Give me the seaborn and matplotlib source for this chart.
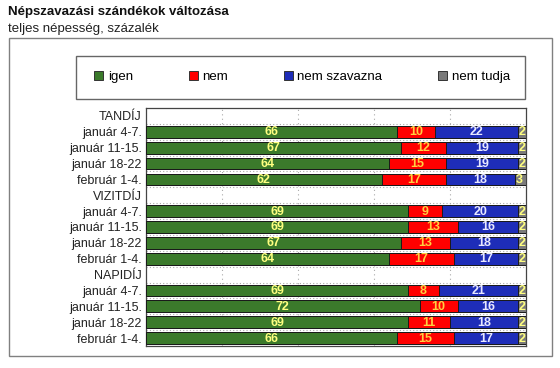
import matplotlib
matplotlib.use("Agg")
import matplotlib.pyplot as plt
from matplotlib.patches import Rectangle, Patch
import seaborn as sns
import pandas as pd
import numpy as np

# ---- data ----
groups = ["TANDÍJ", "VIZITDÍJ", "NAPIDÍJ"]
periods = ["január 4-7.", "január 11-15.", "január 18-22", "február 1-4."]
series = ["igen", "nem", "nem szavazna", "nem tudja"]
igen = [66, 67, 64, 62, 69, 69, 67, 64, 69, 72, 69, 66]
nem = [10, 12, 15, 17, 9, 13, 13, 17, 8, 10, 11, 15]
nem_szavazna = [22, 19, 19, 18, 20, 16, 18, 17, 21, 16, 18, 17]
nem_tudja = [2, 2, 2, 3, 2, 2, 2, 2, 2, 2, 2, 2]

colors = ["#3B7A2B", "#FF0000", "#1E2DB8", "#7A7A7A"]
label_colors = ["#FFFF80", "#FFD040", "#E8E8FF", "#FFFF80"]

# ---- build table ----
keys, order, ticklabels = [], [], []
for gi, g in enumerate(groups):
    order.append(g)
    ticklabels.append(g)
    for p in periods:
        k = f"{g}|{p}"
        keys.append(k)
        order.append(k)
        ticklabels.append(p)

vals = np.array([igen, nem, nem_szavazna, nem_tudja], dtype=float)
cum = np.cumsum(vals, axis=0)
df = pd.DataFrame({"key": keys})
for i, s in enumerate(series):
    df[s] = vals[i]
    df["cum_" + s] = cum[i]

plt.rcParams["font.family"] = ["Liberation Sans", "DejaVu Sans"]
fig = plt.figure(figsize=(5.6, 3.68), dpi=100)
ax = fig.add_axes([146 / 560, 1 - 346 / 368, 380 / 560, 238 / 368])

# draw stacked bars from the largest cumulative to smallest
for i in range(len(series) - 1, -1, -1):
    sns.barplot(data=df, x="cum_" + series[i], y="key", order=order,
                color=colors[i], saturation=1, width=0.74, errorbar=None,
                edgecolor="#1a1a1a", linewidth=0.7, ax=ax, zorder=3)

# labels
ypos = {k: order.index(k) for k in keys}
for r, k in enumerate(keys):
    for i in range(len(series)):
        left = cum[i, r] - vals[i, r]
        cx = left + vals[i, r] / 2
        if i == 3:
            cx = left + vals[i, r] * 0.45
        ax.text(cx, ypos[k] + 0.03, f"{int(vals[i, r])}", ha="center", va="center",
                fontsize=9, fontweight="bold", color=label_colors[i],
                family=["Liberation Sans Narrow", "Liberation Sans"], zorder=5,
                clip_on=True)

ax.set_xlim(0, 100)
ax.set_ylim(len(order) - 0.5, -0.5)
ax.set_xlabel("")
ax.set_ylabel("")
ax.set_xticks([])
ax.set_yticks(range(len(order)))
ax.set_yticklabels(ticklabels, fontsize=9, color="#222222")
ax.tick_params(axis="y", length=0, pad=3)

for xv in [20, 40, 60, 80]:
    ax.axvline(xv, color="#aaaaaa", linestyle=(0, (1, 3)), lw=0.8, zorder=1)
for yv in np.arange(0.5, len(order) - 0.5, 1):
    ax.axhline(yv, color="#aaaaaa", linestyle=(0, (1, 2)), lw=0.8, zorder=1)
for sp in ax.spines.values():
    sp.set_color("#444444")
    sp.set_linewidth(0.9)

# outer frame and legend frame
fig.patches.append(Rectangle((9 / 560, 1 - 356 / 368), 543 / 560, 318 / 368,
                             transform=fig.transFigure, fill=False,
                             edgecolor="#808080", lw=1.0))
fig.patches.append(Rectangle((76 / 560, 1 - 99 / 368), 449 / 560, 43 / 368,
                             transform=fig.transFigure, fill=False,
                             edgecolor="#666666", lw=1.0))
handles = [Patch(facecolor=c, edgecolor="#333333", lw=0.7) for c in colors]
fig.legend(handles, series, loc="center", bbox_to_anchor=(302 / 560, 1 - 77 / 368),
           ncol=4, frameon=False, fontsize=9.5, handlelength=0.7, handleheight=0.7,
           handletextpad=0.35, columnspacing=4.2, borderpad=0)

fig.text(8 / 560, 1 - 12 / 368, "Népszavazási szándékok változása", fontsize=9.5,
         fontweight="bold", ha="left", va="center", color="#111111")
fig.text(8 / 560, 1 - 29 / 368, "teljes népesség, százalék", fontsize=9.5,
         ha="left", va="center", color="#222222")

fig.savefig("out.png", dpi=100)
